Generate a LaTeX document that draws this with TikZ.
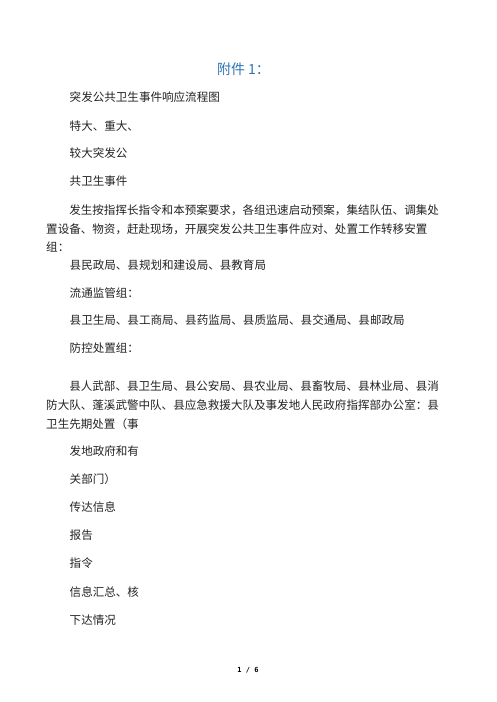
\documentclass[tikz,border=0pt]{standalone}
\usepackage{fontspec}
\newfontfamily\cjk{Noto Sans CJK SC}
\newfontfamily\pagefont{DejaVu Sans Mono}
\definecolor{titleblue}{RGB}{46,116,181}
\definecolor{bodygray}{RGB}{35,35,35}
\tikzset{
    line/.style={anchor=base west, inner sep=0pt, text=bodygray,
        font=\cjk\fontsize{11.55}{18.7}\selectfont},
    para/.style={line, align=left},
    heading/.style={anchor=base, inner sep=0pt, text=titleblue,
        font=\cjk\fontsize{14}{16}\selectfont},
    pageno/.style={anchor=base, inner sep=0pt, font=\pagefont\bfseries\fontsize{7}{8}\selectfont}
}
\begin{document}
\begin{tikzpicture}[x=1pt, y=-1pt]
    \fill[white] (0,0) rectangle (496,702);
    \useasboundingbox (0,0) rectangle (496,702);

    \node[heading] (title) at (243.5,74.3) {附件 1：};

    \node[line] (chart)  at (69.5,101.4) {突发公共卫生事件响应流程图};
    \node[line] (grade1) at (69.5,130.4) {特大、重大、};
    \node[line] (grade2) at (69.5,157.4) {较大突发公};
    \node[line] (grade3) at (69.5,185.4) {共卫生事件};

    % base of a multi-line node is its last line
    \node[para] (order) at (46,251.8)
        {\hspace*{23.1pt}发生按指挥长指令和本预案要求，各组迅速启动预案，集结队伍、调集处\\
         置设备、物资，赶赴现场，开展突发公共卫生事件应对、处置工作转移安置\\
         组：};

    \node[line] (resettle) at (69.5,269.4) {县民政局、县规划和建设局、县教育局};
    \node[line] (market)   at (69.5,297.4) {流通监管组：};
    \node[line] (market-m) at (69.5,324.4) {县卫生局、县工商局、县药监局、县质监局、县交通局、县邮政局};
    \node[line] (control)  at (69.5,352.4) {防控处置组：};

    \node[para] (control-m) at (46,428)
        {\hspace*{23.1pt}县人武部、县卫生局、县公安局、县农业局、县畜牧局、县林业局、县消\\
         防大队、蓬溪武警中队、县应急救援大队及事发地人民政府指挥部办公室：县\\
         卫生先期处置（事};

    \node[line] (local1) at (69.5,455.4) {发地政府和有};
    \node[line] (local2) at (69.5,483.4) {关部门）};
    \node[line] (pass)   at (69.5,511.4) {传达信息};
    \node[line] (report) at (69.5,539.4) {报告};
    \node[line] (cmd)    at (69.5,567.4) {指令};
    \node[line] (sum)    at (69.5,596.4) {信息汇总、核};
    \node[line] (issue)  at (69.5,624.4) {下达情况};

    \node[pageno] (page) at (248,672.5) {1 / 6};
\end{tikzpicture}
\end{document}
